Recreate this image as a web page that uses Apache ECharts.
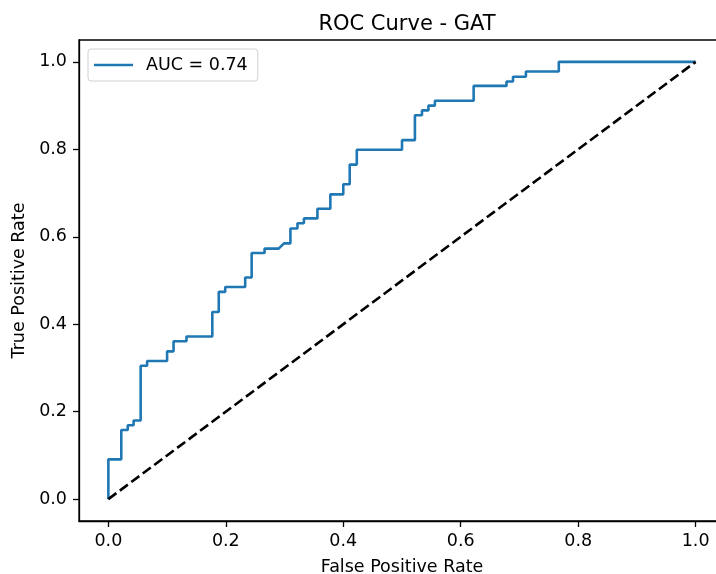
<!DOCTYPE html>
<html>
<head>
<meta charset="utf-8">
<title>ROC Curve - GAT</title>
<script src="https://cdn.jsdelivr.net/npm/echarts@6/dist/echarts.min.js"></script>
<style>
  html, body { margin: 0; padding: 0; background: #fff; overflow: hidden; }
  /* wider than the window: the right spine falls just outside, as in the original */
  #roc { width: 736px; height: 574px; }
</style>
</head>
<body>
<div id="roc"></div>
<script>
// roc points (corners of the staircase)
const fpr = [0, 0, 0.022, 0.022, 0.033, 0.033, 0.043, 0.043, 0.055, 0.055, 0.066, 0.066,
  0.100, 0.100, 0.111, 0.111, 0.133, 0.133, 0.177, 0.177, 0.188, 0.188, 0.199, 0.199,
  0.233, 0.233, 0.244, 0.244, 0.266, 0.266, 0.290, 0.299, 0.310, 0.310, 0.322, 0.322,
  0.333, 0.333, 0.356, 0.356, 0.378, 0.378, 0.400, 0.400, 0.411, 0.411, 0.423, 0.423,
  0.500, 0.500, 0.522, 0.522, 0.534, 0.534, 0.545, 0.545, 0.556, 0.556, 0.622, 0.622,
  0.678, 0.678, 0.689, 0.689, 0.711, 0.711, 0.767, 0.767, 1.0];
const tpr = [0, 0.091, 0.091, 0.158, 0.158, 0.169, 0.169, 0.180, 0.180, 0.305, 0.305,
  0.316, 0.316, 0.338, 0.338, 0.361, 0.361, 0.372, 0.372, 0.428, 0.428, 0.474, 0.474,
  0.485, 0.485, 0.507, 0.507, 0.563, 0.563, 0.573, 0.573, 0.585, 0.585, 0.619, 0.619,
  0.631, 0.631, 0.642, 0.642, 0.664, 0.664, 0.697, 0.697, 0.720, 0.720, 0.765, 0.765,
  0.799, 0.799, 0.821, 0.821, 0.878, 0.878, 0.889, 0.889, 0.900, 0.900, 0.911, 0.911,
  0.945, 0.945, 0.955, 0.955, 0.966, 0.966, 0.978, 0.978, 1.0, 1.0];
const chance = [[0, 0], [1, 1]];
const xTicks = [0, 0.2, 0.4, 0.6, 0.8, 1.0];
const yTicks = [0, 0.2, 0.4, 0.6, 0.8, 1.0];
const aucLabel = 'AUC = 0.74';

const font = 'DejaVu Sans';
let rocData = [];
for (let i = 0; i < fpr.length; i++) {
  rocData.push([fpr[i], tpr[i]]);
}

const chartDom = document.getElementById('roc');
const myChart = echarts.init(chartDom, null, { renderer: 'canvas' });

const option = {
  animation: false,
  backgroundColor: '#fff',
  textStyle: { fontFamily: font, color: '#000' },
  title: {
    text: 'ROC Curve - GAT',
    left: 402,
    textAlign: 'center',
    top: 9,
    textStyle: { fontFamily: font, fontSize: 21, fontWeight: 'normal', color: '#000' }
  },
  legend: {
    data: [{ name: aucLabel, icon: 'rect' }],
    left: 88,
    top: 49,
    itemWidth: 39,
    itemHeight: 2.6,
    padding: [7, 10, 7, 6],
    backgroundColor: '#fff',
    borderColor: '#d0d0d0',
    borderWidth: 1,
    borderRadius: 3,
    textStyle: { fontFamily: font, fontSize: 17.5, color: '#000', padding: [0, 0, 0, 8], lineHeight: 18 }
  },
  grid: {
    left: 79,
    top: 40,
    width: 646,
    height: 481,
    outerBoundsMode: 'none',
    show: true,
    borderColor: '#000',
    borderWidth: 1.3
  },
  xAxis: {
    type: 'value',
    min: -0.05,
    max: 1.05,
    name: 'False Positive Rate',
    nameLocation: 'middle',
    nameGap: 37,
    nameTextStyle: { fontFamily: font, fontSize: 17.5, color: '#000' },
    axisLine: { show: true, onZero: false, lineStyle: { color: '#000', width: 1.3 } },
    axisTick: { show: true, length: 6, lineStyle: { color: '#000', width: 1.3 }, customValues: xTicks },
    axisLabel: {
      fontFamily: font, fontSize: 17.5, color: '#000', margin: 11,
      customValues: xTicks,
      formatter: v => v.toFixed(1)
    },
    splitLine: { show: false }
  },
  yAxis: {
    type: 'value',
    min: -0.05,
    max: 1.05,
    name: 'True Positive Rate',
    nameLocation: 'middle',
    nameGap: 46,
    nameTextStyle: { fontFamily: font, fontSize: 17.5, color: '#000' },
    axisLine: { show: true, onZero: false, lineStyle: { color: '#000', width: 1.3 } },
    axisTick: { show: true, length: 6, lineStyle: { color: '#000', width: 1.3 }, customValues: yTicks },
    axisLabel: {
      fontFamily: font, fontSize: 17.5, color: '#000', margin: 12,
      customValues: yTicks,
      formatter: v => v.toFixed(1)
    },
    splitLine: { show: false }
  },
  series: [
    {
      name: aucLabel,
      type: 'line',
      data: rocData,
      symbol: 'none',
      color: '#1f77b4',
      lineStyle: { color: '#1f77b4', width: 2.6 },
      z: 2
    },
    {
      name: 'chance',
      type: 'line',
      data: chance,
      symbol: 'none',
      color: '#000',
      lineStyle: { color: '#000', width: 2.6, type: [10, 4.3] },
      z: 3
    }
  ]
};

option && myChart.setOption(option);
</script>
</body>
</html>
